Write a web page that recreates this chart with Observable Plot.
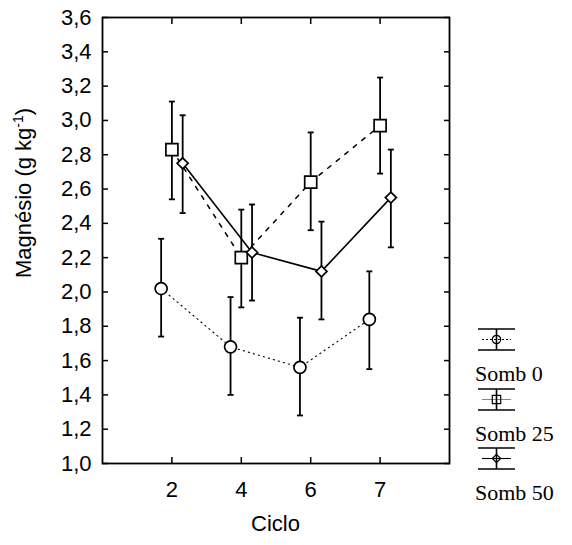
<!DOCTYPE html>
<html><head><meta charset="utf-8">
<script src="https://cdn.jsdelivr.net/npm/d3@7"></script>
<script src="https://cdn.jsdelivr.net/npm/@observablehq/plot@0.6"></script>
<style>
html,body{margin:0;padding:0;background:#fff;}
#wrap{position:relative;width:572px;height:545px;overflow:hidden;}
#legend{position:absolute;left:0;top:0;}
</style></head><body><div id="wrap"></div>
<script>
// ---- data ----
const ciclos = ["2", "4", "6", "7"];
const seriesNames = ["Somb 0", "Somb 25", "Somb 50"];
const somb0 = [2.02, 1.68, 1.56, 1.84];
const somb0Lo = [1.74, 1.40, 1.28, 1.55];
const somb0Hi = [2.31, 1.97, 1.85, 2.12];
const somb25 = [2.83, 2.20, 2.64, 2.97];
const somb25Lo = [2.54, 1.91, 2.36, 2.69];
const somb25Hi = [3.11, 2.48, 2.93, 3.25];
const somb50 = [2.75, 2.23, 2.12, 2.55];
const somb50Lo = [2.46, 1.95, 1.84, 2.26];
const somb50Hi = [3.03, 2.51, 2.41, 2.83];
const yTicks = [1.0, 1.2, 1.4, 1.6, 1.8, 2.0, 2.2, 2.4, 2.6, 2.8, 3.0, 3.2, 3.4, 3.6];
const yLabel = "Magnésio (g kg";
const yLabelSup = "-1";
const xLabel = "Ciclo";

// ---- styles ----
const means = [somb0, somb25, somb50];
const los = [somb0Lo, somb25Lo, somb50Lo];
const his = [somb0Hi, somb25Hi, somb50Hi];
const offsets = [-0.155, 0, 0.155];
const dashes = ["1.2,4", "4,7", null];
const lineWidths = [1.1, 1.5, 1.6];

const squareSym = {draw(ctx, size) { const h = Math.sqrt(size / Math.PI); ctx.rect(-h, -h, 2 * h, 2 * h); }};
const diamondSym = {draw(ctx, size) { const h = Math.sqrt(size / Math.PI); ctx.moveTo(0, -h); ctx.lineTo(h, 0); ctx.lineTo(0, h); ctx.lineTo(-h, 0); ctx.closePath(); }};
const circleSym = {draw(ctx, size) { const h = Math.sqrt(size / Math.PI); ctx.moveTo(h, 0); ctx.arc(0, 0, h, 0, 2 * Math.PI); }};
const capSym = {draw(ctx, size) { const h = Math.sqrt(size / Math.PI); ctx.moveTo(-h, 0); ctx.lineTo(h, 0); }};
const symbols = [circleSym, squareSym, diamondSym];
const symR = [6, 6, 5.5];

const rows = [];
seriesNames.forEach((s, k) => {
  ciclos.forEach((c, i) => {
    rows.push({serie: s, k, x: i + 1 + offsets[k], y: means[k][i], lo: los[k][i], hi: his[k][i]});
  });
});

const fmt = v => d3.format(".1f")(v).replace(".", ",");
const font = "'Liberation Sans', Arial, sans-serif";

const marks = [
  Plot.axisY(yTicks, {anchor: "left", tickSize: 0, tickPadding: 11, tickFormat: fmt, label: null, fontSize: 22}),
  Plot.axisY(yTicks, {anchor: "left", tickSize: 6, dx: 6, tickFormat: () => "", label: null, strokeWidth: 1.5}),
  Plot.axisY(yTicks, {anchor: "right", tickSize: 6, dx: -6, tickFormat: () => "", label: null, strokeWidth: 1.5}),
  Plot.axisX([1, 2, 3, 4], {anchor: "bottom", tickSize: 0, tickPadding: 18, tickFormat: i => ciclos[i - 1], label: null, fontSize: 22}),
  Plot.axisX([1, 2, 3, 4], {anchor: "bottom", tickSize: 6, dy: -6, tickFormat: () => "", label: null, strokeWidth: 1.5}),
  Plot.axisX([1, 2, 3, 4], {anchor: "top", tickSize: 6, dy: 6, tickFormat: () => "", label: null, strokeWidth: 1.5}),
  Plot.ruleX(rows, {x: "x", y1: "lo", y2: "hi", stroke: "#000", strokeWidth: 1.8}),
  Plot.dot(rows, {x: "x", y: "lo", symbol: capSym, r: 3, stroke: "#000", strokeWidth: 1.8}),
  Plot.dot(rows, {x: "x", y: "hi", symbol: capSym, r: 3, stroke: "#000", strokeWidth: 1.8})
];
seriesNames.forEach((s, k) => {
  const d = rows.filter(r => r.k === k);
  marks.push(Plot.line(d, {x: "x", y: "y", stroke: "#000", strokeWidth: lineWidths[k], strokeDasharray: dashes[k]}));
});
seriesNames.forEach((s, k) => {
  const d = rows.filter(r => r.k === k);
  marks.push(Plot.dot(d, {x: "x", y: "y", symbol: symbols[k], r: symR[k], fill: "#fff", stroke: "#000", strokeWidth: 1.7}));
});
marks.push(Plot.frame({stroke: "#000", strokeWidth: 1.8}));

const chart = Plot.plot({
  width: 572, height: 545,
  marginLeft: 102, marginRight: 123, marginTop: 17, marginBottom: 82,
  style: {fontFamily: font, fontSize: "22px", color: "#000", background: "#fff", overflow: "visible"},
  x: {domain: [0, 5]},
  y: {domain: [1.0, 3.6]},
  marks
});
document.getElementById("wrap").appendChild(chart);

// axis titles
const svg = d3.select(chart);
const yl = svg.append("text")
  .attr("transform", "translate(31,193) rotate(-90)")
  .attr("text-anchor", "middle")
  .attr("font-family", font).attr("font-size", 22).attr("fill", "#000");
yl.append("tspan").text(yLabel);
yl.append("tspan").attr("font-size", 14).attr("dy", -8).text(yLabelSup);
yl.append("tspan").attr("dy", 8).text(")");
svg.append("text").attr("x", 275.5).attr("y", 531).attr("text-anchor", "middle")
  .attr("font-family", font).attr("font-size", 22).attr("fill", "#000").text(xLabel);

// legend
const lg = d3.select("#wrap").append("svg").attr("id", "legend").attr("width", 572).attr("height", 545);
const legTop = [329, 389, 448];
seriesNames.forEach((s, k) => {
  const y0 = legTop[k], y1 = y0 + 21, ym = y0 + 10.5, x0 = 478, x1 = 515, xm = (x0 + x1) / 2;
  const g = lg.append("g");
  g.append("line").attr("x1", x0 + 4).attr("x2", x1 - 4).attr("y1", ym).attr("y2", ym)
    .attr("stroke", k === 1 ? "#666" : "#000").attr("stroke-width", k === 1 ? 0.8 : 1.1)
    .attr("stroke-dasharray", k === 0 ? "2,2" : null);
  g.append("line").attr("x1", x0).attr("x2", x1).attr("y1", y0).attr("y2", y0).attr("stroke", "#000").attr("stroke-width", 1.6);
  g.append("line").attr("x1", x0).attr("x2", x1).attr("y1", y1).attr("y2", y1).attr("stroke", "#000").attr("stroke-width", 1.6);
  g.append("line").attr("x1", xm).attr("x2", xm).attr("y1", y0).attr("y2", y1).attr("stroke", "#000").attr("stroke-width", 1.6);
  g.append("path").attr("transform", `translate(${xm},${ym})`)
    .attr("d", d3.symbol(symbols[k], 4.2 * 4.2 * Math.PI)()).attr("fill", "none").attr("stroke", "#000").attr("stroke-width", 1.2);
  g.append("text").attr("x", 475).attr("y", y1 + 31).attr("font-family", "'Liberation Serif', 'Times New Roman', serif")
    .attr("font-size", 22).attr("fill", "#000").text(s);
});
</script></body></html>
